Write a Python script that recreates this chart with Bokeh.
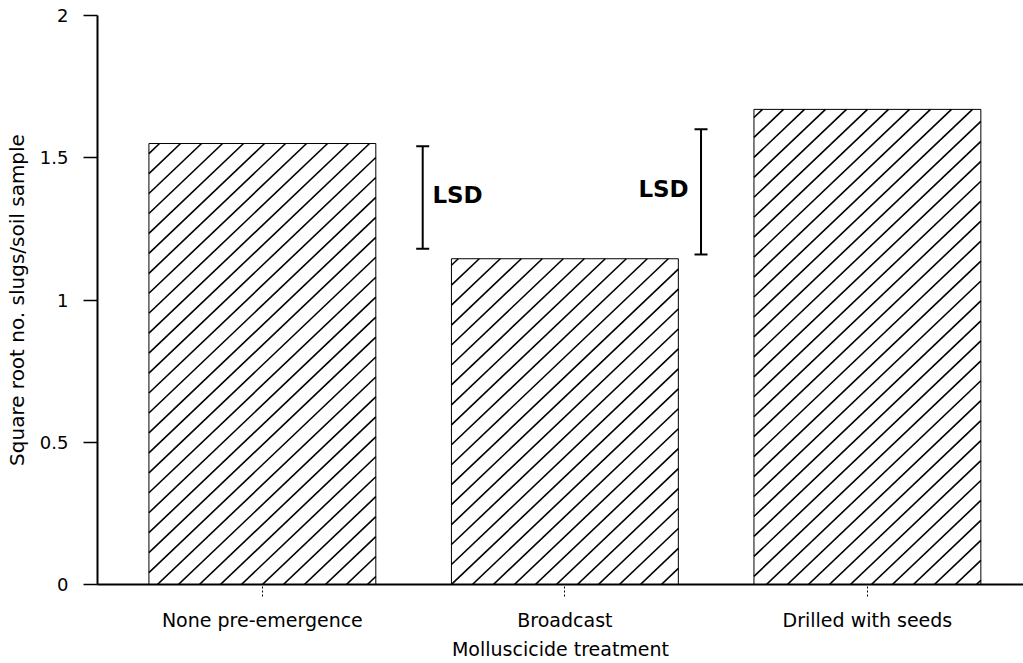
import math
from bokeh.plotting import figure
from bokeh.models import Range1d, FixedTicker, Whisker, TeeHead, ColumnDataSource
from bokeh.core.properties import value
from bokeh.embed import file_html
from bokeh.resources import INLINE

# ---- data ----
categories = ["None pre-emergence", "Broadcast", "Drilled with seeds"]
values = [1.55, 1.145, 1.67]
lsd_low = [1.18, 1.16]
lsd_high = [1.54, 1.60]
lsd_text = ["LSD", "LSD"]
yticks = [0, 0.5, 1, 1.5, 2]
ytick_labels = ["0", "0.5", "1", "1.5", "2"]
x_title = "Molluscicide treatment"
y_title = "Square root no. slugs/soil sample"

xs = list(range(len(categories)))

# ---- layout ----
W, H = 1023, 663
B_LEFT, B_RIGHT, B_TOP, B_BOTTOM = 97, 0, 15, 79
X0, X1 = -0.545, 2.516
Y0, Y1 = 0, 2
BAR_W = 0.75

p = figure(width=W, height=H, output_backend="svg", toolbar_location=None,
           x_range=Range1d(X0, X1), y_range=Range1d(Y0, Y1),
           min_border_left=B_LEFT, min_border_right=B_RIGHT, min_border_top=B_TOP,
           min_border_bottom=B_BOTTOM)
p.outline_line_color = None
p.grid.visible = False
p.background_fill_color = "white"
p.border_fill_color = "white"

bar_src = ColumnDataSource(dict(x=xs, top=values))
p.vbar(x="x", top="top", bottom=0, width=BAR_W, source=bar_src,
       fill_color="white", line_color="black", line_width=1)

# ---- diagonal hatching, clipped to each bar (computed from bar data) ----
px_x = (W - B_LEFT - B_RIGHT) / (X1 - X0)   # pixels per x unit
px_y = (H - B_TOP - B_BOTTOM) / (Y1 - Y0)   # pixels per y unit
spacing = 21.0   # horizontal pixel spacing of hatch lines
k = 0.95         # slope in screen space
hx, hy = [], []
for xc, top in zip(xs, values):
    uL, uR = (xc - BAR_W / 2) * px_x, (xc + BAR_W / 2) * px_x
    vT = top * px_y
    c = math.floor((uL - vT / k) / spacing) * spacing
    while c < uR:
        lo = max(0.0, k * (uL - c))
        hi = min(vT, k * (uR - c))
        if hi > lo + 0.5:
            hx.append([(lo / k + c) / px_x, (hi / k + c) / px_x])
            hy.append([lo / px_y, hi / px_y])
        c += spacing
p.multi_line(xs=hx, ys=hy, line_color="black", line_width=1.6)

# LSD bars placed between the bars
lsd_x = [0.53, 1.45]
lsd_src = ColumnDataSource(dict(x=lsd_x, lo=lsd_low, hi=lsd_high))
w = Whisker(base="x", lower="lo", upper="hi", dimension="height", source=lsd_src,
            line_width=2, line_color="black",
            upper_head=TeeHead(size=13, line_width=2, line_color="black"),
            lower_head=TeeHead(size=13, line_width=2, line_color="black"))
p.add_layout(w)

text_x = [lsd_x[0] + 0.032, lsd_x[1] - 0.207]
text_y = [(lsd_low[0] + lsd_high[0]) / 2 + 0.01, (lsd_low[1] + lsd_high[1]) / 2 + 0.01]
p.text(x=text_x, y=text_y, text=lsd_text, text_font=value("DejaVu Sans"),
       text_font_style="bold", text_font_size="23px", text_color="black",
       text_align="left", text_baseline="middle")

# y axis
ya = p.yaxis[0]
ya.ticker = FixedTicker(ticks=yticks)
ya.major_label_overrides = dict(zip(yticks, ytick_labels))
ya.minor_tick_line_color = None
ya.major_tick_out = 14
ya.major_tick_in = 0
ya.major_tick_line_width = 1.5
ya.axis_line_width = 2
ya.major_label_standoff = 15
ya.major_label_text_font = "DejaVu Sans"
ya.major_label_text_font_size = "18px"
ya.major_label_text_color = "black"
ya.axis_label = y_title
ya.axis_label_text_font = "DejaVu Sans"
ya.axis_label_text_font_size = "20px"
ya.axis_label_text_font_style = "normal"
ya.axis_label_text_color = "black"
ya.axis_label_standoff = 8

# x axis
xa = p.xaxis[0]
xa.ticker = FixedTicker(ticks=xs)
xa.major_label_overrides = dict(zip(xs, categories))
xa.minor_tick_line_color = None
xa.major_tick_out = 12
xa.major_tick_in = 0
xa.major_tick_line_width = 1
xa.major_tick_line_dash = "2 2"
xa.axis_line_width = 2
xa.major_label_standoff = 12
xa.major_label_text_font = "DejaVu Sans"
xa.major_label_text_font_size = "19px"
xa.major_label_text_color = "black"
xa.axis_label = x_title
xa.axis_label_text_font = "DejaVu Sans"
xa.axis_label_text_font_size = "19px"
xa.axis_label_text_font_style = "normal"
xa.axis_label_text_color = "black"
xa.axis_label_standoff = 4

open("out.html", "w").write(file_html(p, INLINE))
